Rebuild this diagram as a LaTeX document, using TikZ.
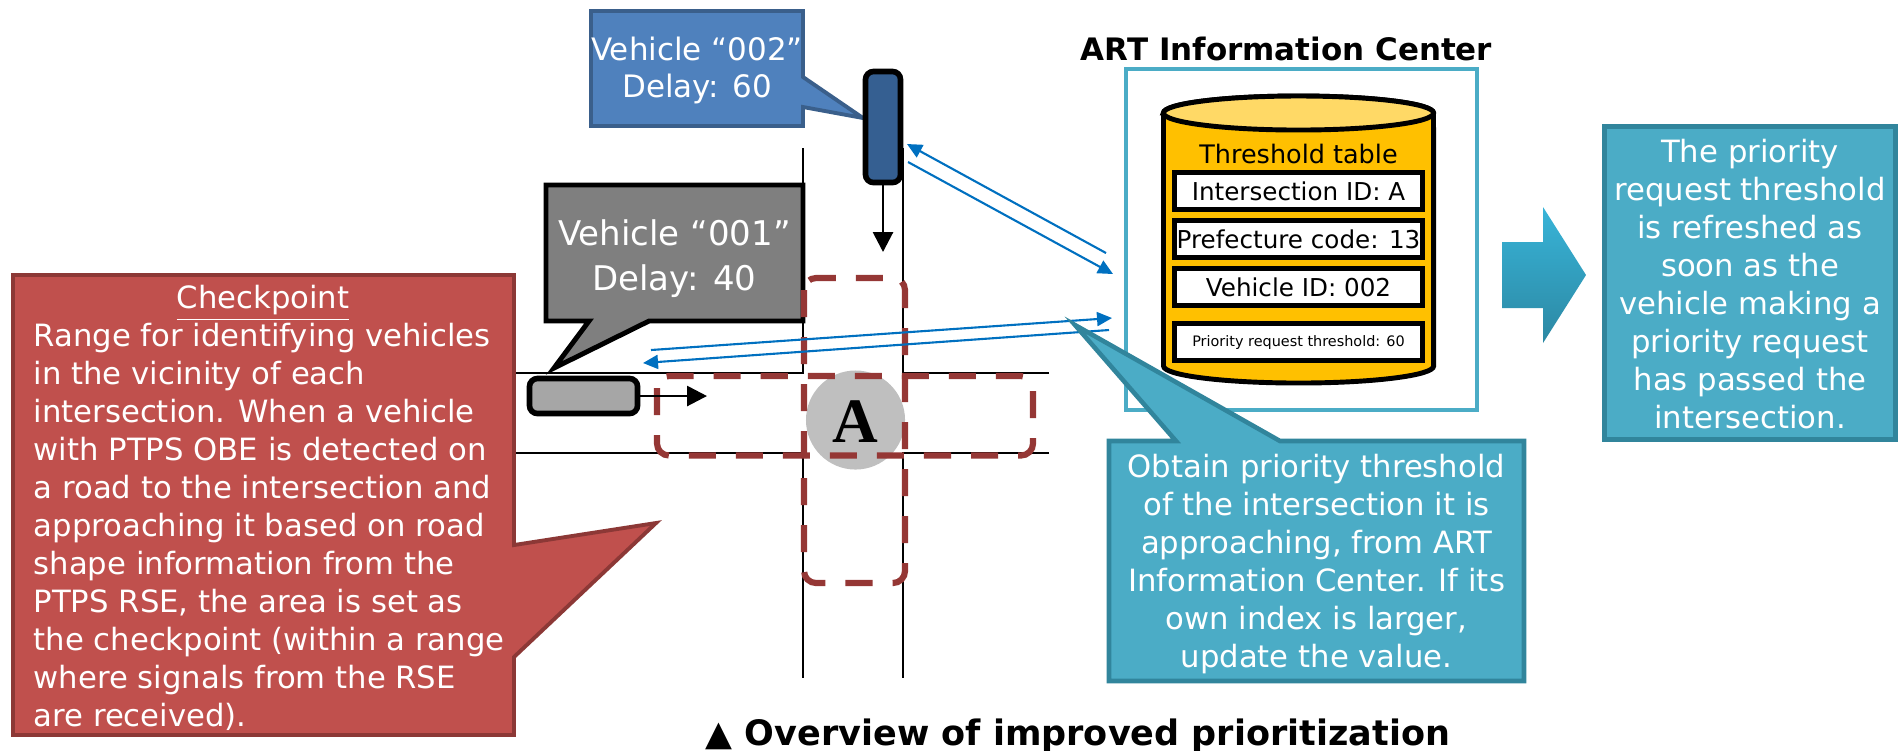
\documentclass[tikz,border=0pt]{standalone}
\usepackage{fontspec}
\setmainfont{DejaVu Sans}
\newfontfamily\markfont{Liberation Serif}
\usetikzlibrary{arrows.meta}

\definecolor{cpfill}{HTML}{C0504D}
\definecolor{cpedge}{HTML}{8C3836}
\definecolor{vbfill}{HTML}{4F81BD}
\definecolor{vbedge}{HTML}{3A5F8B}
\definecolor{carblue}{HTML}{355F91}
\definecolor{callgray}{HTML}{7F7F7F}
\definecolor{cargray}{HTML}{A6A6A6}
\definecolor{zonered}{HTML}{953735}
\definecolor{tealfill}{HTML}{4BACC6}
\definecolor{tealedge}{HTML}{31859C}
\definecolor{centeredge}{HTML}{4BACC6}
\definecolor{linkblue}{HTML}{0070C0}
\definecolor{dbgold}{HTML}{FFC000}
\definecolor{dbtop}{HTML}{FFD966}
\definecolor{isecgray}{HTML}{BFBFBF}
\definecolor{arrowtop}{HTML}{38B4D8}
\definecolor{arrowbot}{HTML}{2C88A3}

\newcommand\setfs[2]{\fontsize{#1}{#2}\selectfont}

\tikzset{
  road/.style={line width=0.6pt, draw=black},
  zone/.style={draw=zonered, line width=1.75pt, dash pattern=on 0.27cm off 0.2cm, rounded corners=0.12cm},
  car/.style={draw=black, line width=1.6pt, rounded corners=0.08cm, inner sep=0},
  move/.style={-{Triangle[length=0.2cm,width=0.2cm]}, line width=0.8pt},
  link/.style={draw=linkblue, line width=0.6pt, -{Triangle[length=0.15cm,width=0.14cm]}},
  whitetext/.style={text=white, inner sep=0},
  field/.style={draw=black, fill=white, line width=1.4pt, minimum width=2.48cm, minimum height=0.37cm, inner sep=0, font=\setfs{7pt}{8pt}},
}

\begin{document}
\begin{tikzpicture}[x=0.01cm,y=-0.01cm]
\useasboundingbox (0,0) rectangle (1901,750);

% crossroad
\draw[road] (511,373) -- (803,373) -- (803,148);
\draw[road] (1049,373) -- (903,373) -- (903,148);
\draw[road] (511,453) -- (803,453) -- (803,678);
\draw[road] (1049,453) -- (903,453) -- (903,678);

% callouts on the left
\draw[fill=callgray, draw=black, line width=1.4pt]
  (546,185) -- (803,185) -- (803,321) -- (649,321) -- (554,368) -- (589,321) -- (546,321) -- cycle;
\draw[fill=vbfill, draw=vbedge, line width=1.1pt]
  (591,11) -- (803,11) -- (803,77) -- (863,118) -- (803,107) -- (803,126) -- (591,126) -- cycle;
\draw[fill=cpfill, draw=cpedge, line width=1.1pt]
  (13,275) -- (514,275) -- (514,545) -- (656,523) -- (514,657) -- (514,735) -- (13,735) -- cycle;

% intersection and checkpoint areas
\node[circle, fill=isecgray, minimum size=0.99cm, inner sep=0] (isec) at (855.5,420) {};
\draw[zone] (804,278) rectangle (905,583);
\draw[zone] (657,376) rectangle (1033,455.5);
\node[font=\markfont\bfseries\setfs{18pt}{18pt}, inner sep=0] (isecA) at (855.5,422) {A};

% vehicles
\node[car, fill=cargray, minimum width=1.08cm, minimum height=0.35cm] (car1) at (583.5,396) {};
\node[car, fill=carblue, minimum width=0.35cm, minimum height=1.11cm] (car2) at (883,127) {};
\coordinate (car1go) at (707,396);
\coordinate (car2go) at (883,252);
\draw[move] (car1.east) -- (car1go);
\draw[move] (car2.south) -- (car2go);

% information center
\node[draw=centeredge, fill=white, line width=1.1pt, minimum width=3.51cm, minimum height=3.41cm, inner sep=0] (artc) at (1301.5,239.5) {};
\node[font=\bfseries\setfs{8.8pt}{10pt}, anchor=base, inner sep=0] (artt) at (1286.5,60) {ART Information Center};

\draw[fill=dbgold, line width=1.4pt]
  (1163.5,113) -- (1163.5,366)
  arc[start angle=180, end angle=360, x radius=1.35cm, y radius=0.17cm]
  -- (1433.5,113)
  arc[start angle=0, end angle=180, x radius=1.35cm, y radius=0.17cm] -- cycle;
\draw[fill=dbtop, line width=1.4pt] (1298.5,113) ellipse [x radius=1.35cm, y radius=0.17cm];

\node[font=\setfs{7.25pt}{8pt}, anchor=base, inner sep=0] (thr) at (1298.5,163) {Threshold table};
\node[field] (f1) at (1298.5,191) {Intersection ID: A};
\node[field] (f2) at (1298.5,239) {Prefecture code: 13};
\node[field] (f3) at (1298.5,287) {Vehicle ID: 002};
\node[field, font=\setfs{4.1pt}{5pt}] (f4) at (1298.5,342) {Priority request threshold: 60};

% radio links
\coordinate (l1s) at (1106,253); \coordinate (l1e) at (907,144);
\coordinate (l2s) at (908,162);  \coordinate (l2e) at (1113,274);
\coordinate (l3s) at (651,350);  \coordinate (l3e) at (1112,318);
\coordinate (l4s) at (1109,330); \coordinate (l4e) at (643,363);
\draw[link] (l1s) -- (l1e);
\draw[link] (l2s) -- (l2e);
\draw[link] (l3s) -- (l3e);
\draw[link] (l4s) -- (l4e);

% callout below the center
\draw[fill=tealfill, draw=tealedge, line width=1.3pt]
  (1109,441) -- (1176,441) -- (1075,325) -- (1280,441) -- (1524,441) -- (1524,681) -- (1109,681) -- cycle;

% result arrow and box
\shade[top color=arrowtop, bottom color=arrowbot]
  (1502,242) -- (1543,242) -- (1543,207) -- (1586,275) -- (1543,343) -- (1543,308) -- (1502,308) -- cycle;
\node[draw=tealedge, fill=tealfill, line width=1.4pt, minimum width=2.91cm, minimum height=3.13cm, inner sep=0] (refresh) at (1750,283) {};

% texts
\node[whitetext, anchor=base] (v2txt) at (697,60)
  {\parbox[t]{3cm}{\centering\setfs{8.8pt}{10.8pt}Vehicle “002”\\Delay: 60}};
\node[whitetext, anchor=base] (v1txt) at (674.5,245)
  {\parbox[t]{3cm}{\centering\setfs{9.67pt}{12.8pt}Vehicle “001”\\Delay: 40}};
\node[whitetext, anchor=base, font=\setfs{8.73pt}{10.81pt}] (cphead) at (263,308) {\underline{Checkpoint}};
\node[whitetext, anchor=base west] (cpbody) at (33,346)
  {\parbox[t]{6cm}{\raggedright\setfs{8.73pt}{10.81pt}%
   Range for identifying vehicles\\
   in the vicinity of each\\
   intersection. When a vehicle\\
   with PTPS OBE is detected on\\
   a road to the intersection and\\
   approaching it based on road\\
   shape information from the\\
   PTPS RSE, the area is set as\\
   the checkpoint (within a range\\
   where signals from the RSE\\
   are received).}};
\node[whitetext, anchor=base] (obtxt) at (1316.5,477)
  {\parbox[t]{4.5cm}{\centering\setfs{8.73pt}{10.81pt}%
   Obtain priority threshold\\
   of the intersection it is\\
   approaching, from ART\\
   Information Center. If its\\
   own index is larger,\\
   update the value.}};
\node[whitetext, anchor=base] (rftxt) at (1750,162)
  {\parbox[t]{3.2cm}{\centering\setfs{8.73pt}{10.81pt}%
   The priority\\
   request threshold\\
   is refreshed as\\
   soon as the\\
   vehicle making a\\
   priority request\\
   has passed the\\
   intersection.}};
\node[anchor=base west, inner sep=0, font=\bfseries\setfs{9.96pt}{12pt}] (cap) at (705,745)
  {▲ Overview of improved prioritization};
\end{tikzpicture}
\end{document}
